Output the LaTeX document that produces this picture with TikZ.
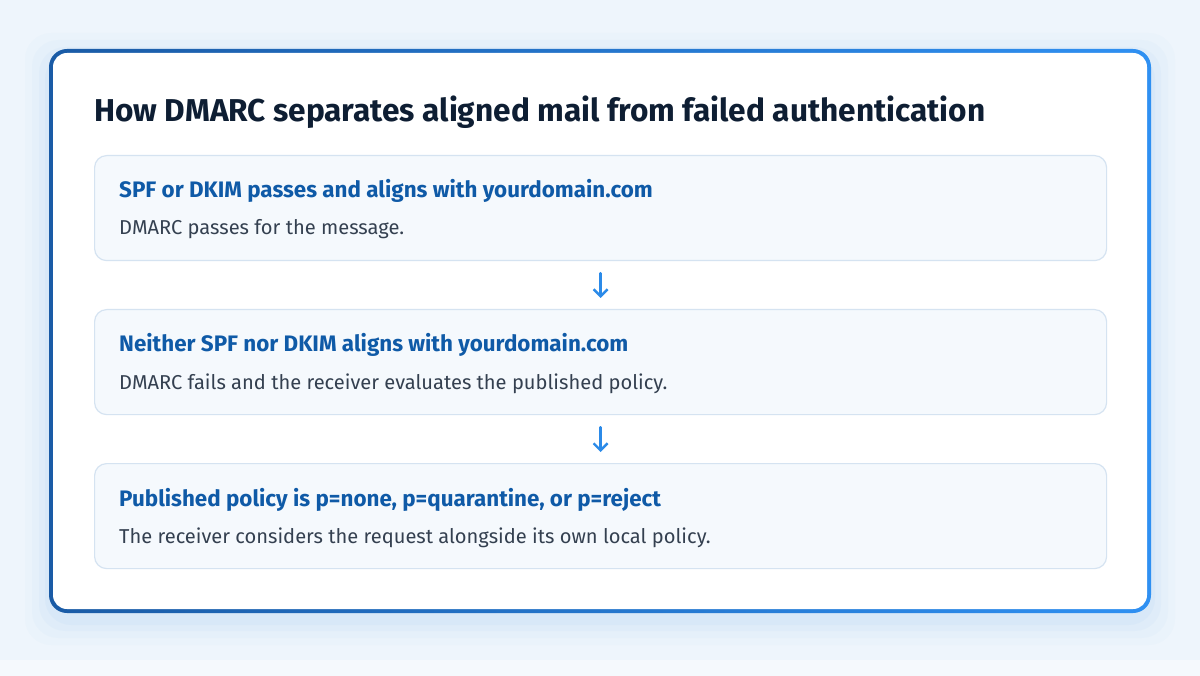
\documentclass[tikz,border=0pt]{standalone}
\usepackage{fontspec}
\setmainfont{Fira Sans}
\usetikzlibrary{positioning,arrows.meta}

\definecolor{pagebg}{HTML}{EEF5FC}
\definecolor{cardleft}{HTML}{1A5BA6}
\definecolor{cardright}{HTML}{2F90F2}
\definecolor{stepfill}{HTML}{F5F9FD}
\definecolor{stepline}{HTML}{D5E3F1}
\definecolor{headblue}{HTML}{0F5AA7}
\definecolor{bodygray}{HTML}{344050}
\definecolor{titlenavy}{HTML}{0E1E33}
\definecolor{arrowblue}{HTML}{2B8AE8}

\tikzset{
  stepbox/.style={draw=stepline, line width=1.2pt, fill=stepfill, rounded corners=12pt,
    minimum width=1012pt, minimum height=105pt, anchor=north west, inner sep=0pt},
  stephead/.style={anchor=base west, inner sep=0pt, text=headblue,
    font=\fontsize{22.4}{27}\selectfont\bfseries},
  stepbody/.style={anchor=base west, inner sep=0pt, text=bodygray,
    font=\fontsize{20.1}{24}\selectfont},
  flow/.style={draw=arrowblue, line width=2.4pt, line cap=round,
    -{Straight Barb[length=7pt,width=14pt,line width=2.4pt]}, shorten <=12pt, shorten >=11pt}
}

\begin{document}
\begin{tikzpicture}[x=1pt,y=-1pt]
  % page and card
  \fill[pagebg] (0,0) rectangle (1200,676);
  \fill[white!40!pagebg] (0,660) rectangle (1200,676);
  \foreach \g/\o in {24/0.02, 17/0.025, 10/0.03, 4/0.035}
    \fill[cardright, opacity=\o, rounded corners=26pt] (49-\g,49-\g+8) rectangle (1151+\g,613+\g+8);
  \shade[left color=cardleft, right color=cardright, rounded corners=18pt] (49,49) rectangle (1151,613);
  \fill[white, rounded corners=14pt] (53,53) rectangle (1147,609);

  \node[anchor=base west, inner sep=0pt, text=titlenavy, font=\fontsize{31.6}{38}\selectfont\bfseries]
    (title) at (94,122) {How DMARC separates aligned mail from failed authentication};

  % the three steps
  \foreach \n/\y/\h/\b in {
    1/155/SPF or DKIM passes and aligns with yourdomain.com/DMARC passes for the message.,
    2/309/Neither SPF nor DKIM aligns with yourdomain.com/DMARC fails and the receiver evaluates the published policy.,
    3/463/{Published policy is p=none, p=quarantine, or p=reject}/The receiver considers the request alongside its own local policy.}
  {
    \node[stepbox] (step\n) at (94,\y) {};
    \node[stephead] (head\n) at ([shift={(25,43)}]step\n.north west) {\h};
    \node[stepbody] (body\n) at ([shift={(25,80)}]step\n.north west) {\b};
  }

  \draw[flow] (step1.south) -- (step2.north);
  \draw[flow] (step2.south) -- (step3.north);
\end{tikzpicture}
\end{document}
